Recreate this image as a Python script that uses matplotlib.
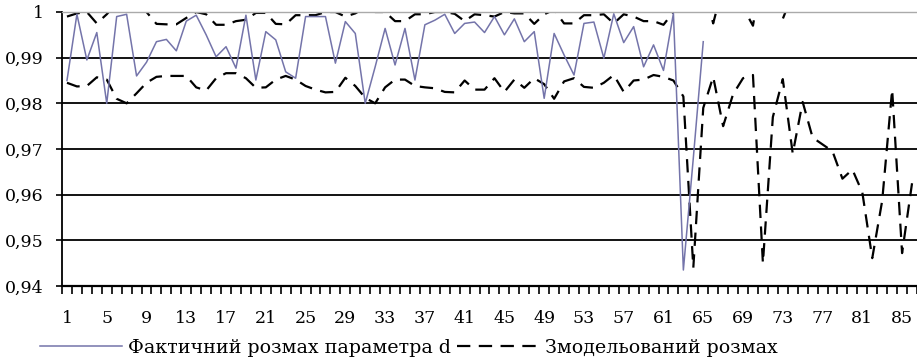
import numpy as np
import matplotlib
matplotlib.use("Agg")
import matplotlib.pyplot as plt
from matplotlib.lines import Line2D

# ---- data ----
categories = list(range(1, 87))

actual_range = [
    0.985, 0.9995, 0.9895, 0.9955, 0.980, 0.999, 0.9995, 0.986, 0.989, 0.9935,
    0.994, 0.9915, 0.998, 0.9993, 0.995, 0.9902, 0.9924, 0.9877, 0.9993, 0.9851,
    0.9957, 0.9939, 0.9869, 0.9855, 0.999, 0.999, 0.999, 0.9888, 0.9979, 0.9953,
    0.980, 0.988, 0.9964, 0.9884, 0.9964, 0.9851, 0.9972, 0.9982, 0.9995, 0.9953,
    0.9975, 0.9978, 0.9955, 0.999, 0.995, 0.9985, 0.9935, 0.9957, 0.9811, 0.9953,
    0.9906, 0.9862, 0.9975, 0.9978, 0.9899, 0.9996, 0.9933, 0.9968, 0.988, 0.9928,
    0.9872, 0.9997, 0.9435, 0.968, 0.9935,
]

model_upper = [
    0.999, 0.9997, 1.0, 0.9975, 0.9995, 1.002, 1.001, 1.0005, 1.0, 0.9974,
    0.9973, 0.9973, 0.9987, 1.0, 0.9995, 0.9972, 0.9972, 0.998, 0.9983, 0.9998,
    0.9998, 0.9974, 0.9973, 0.9993, 0.9993, 0.9993, 1.0, 1.0, 0.999, 0.9997,
    1.001, 1.0, 1.0, 0.998, 0.998, 0.9995, 0.9995, 1.0, 1.0, 0.9996,
    0.998, 0.9995, 0.9993, 0.999, 1.0, 0.9997, 0.9997, 0.9974, 0.9995, 1.0005,
    0.9975, 0.9975, 0.9993, 0.9993, 0.9995, 0.9975, 0.9995, 0.999, 0.998, 0.998,
    0.9972, 1.0, 1.004, 1.01, 1.006, 0.9975, 1.006, 1.008, 1.001, 0.997,
    1.01, 1.004, 0.9985, 1.004, 1.006, 1.005, 1.007, 1.006, 1.008, 1.007,
    1.009, 1.01, 1.008, 1.005, 1.01, 1.008,
]

model_lower = [
    0.9845, 0.9837, 0.9838, 0.9857, 0.9852, 0.981, 0.980, 0.9822, 0.9845, 0.9858,
    0.986, 0.986, 0.986, 0.9835, 0.9828, 0.9855, 0.9866, 0.9866, 0.9855, 0.9834,
    0.9835, 0.9852, 0.986, 0.9852, 0.9838, 0.983, 0.9824, 0.9825, 0.9856, 0.9838,
    0.9812, 0.980, 0.9835, 0.9852, 0.9852, 0.9838, 0.9835, 0.9833, 0.9825, 0.9824,
    0.985, 0.983, 0.983, 0.9855, 0.9825, 0.9852, 0.9834, 0.9855, 0.9842, 0.981,
    0.9848, 0.9855, 0.9836, 0.9834, 0.9845, 0.9862, 0.9825, 0.985, 0.9852, 0.9862,
    0.9858, 0.985, 0.9815, 0.944, 0.979, 0.9858, 0.975, 0.982, 0.9855, 0.9862,
    0.945, 0.977, 0.9853, 0.969, 0.9803, 0.9725, 0.971, 0.9695, 0.9635, 0.9655,
    0.9605, 0.9461, 0.9587, 0.983, 0.9472, 0.9625,
]

y_ticks = [0.94, 0.95, 0.96, 0.97, 0.98, 0.99, 1.0]
y_tick_labels = ["0,94", "0,95", "0,96", "0,97", "0,98", "0,99", "1"]
x_label_positions = list(range(1, 87, 4))
legend_labels = ["Фактичний розмах параметра d", "Змодельований розмах"]

# ---- figure ----
W, H = 917, 359
AX_H = 274
fig = plt.figure(figsize=(W / 100, H / 100), dpi=100)
ax = fig.add_axes([62 / W, 1 - 286 / H, 855 / W, AX_H / H])

font = "DejaVu Serif"
blue = "#7474aa"

for yv in y_ticks[1:-1]:
    ax.axhline(yv, color="black", lw=1.3, zorder=1)

x_act = categories[:len(actual_range)]
ax.plot(x_act, actual_range, color=blue, lw=1.1, zorder=3)
dash = (0, (6.0, 3.8))
ax.plot(categories, model_upper, color="black", lw=1.6, linestyle=dash, zorder=2)
ax.plot(categories, model_lower, color="black", lw=1.6, linestyle=dash, zorder=2)

ax.set_xlim(0.5, 86.5)
ax.set_ylim(0.94, 1.0)

# spines
ax.spines["right"].set_visible(False)
ax.spines["top"].set_color("#aaaaaa")
ax.spines["top"].set_linewidth(1.0)
ax.spines["left"].set_linewidth(1.3)
ax.spines["bottom"].set_linewidth(1.6)

# y ticks
ax.set_yticks(y_ticks)
ax.set_yticklabels(y_tick_labels, fontfamily=font, fontsize=12.5)
ax.tick_params(axis="y", direction="out", length=4.5, width=1.2, pad=8.5,
               color="black")

# x: tick marks at category boundaries (major), labels every 4th category (minor)
ax.xaxis.set_major_locator(matplotlib.ticker.FixedLocator(np.arange(0.5, 87, 1.0)))
ax.xaxis.set_major_formatter(matplotlib.ticker.NullFormatter())
ax.xaxis.set_minor_locator(matplotlib.ticker.FixedLocator(x_label_positions))
ax.xaxis.set_minor_formatter(matplotlib.ticker.FixedFormatter(
    [str(v) for v in x_label_positions]))
ax.xaxis.remove_overlapping_locs = False
ax.tick_params(axis="x", which="major", direction="out", length=6,
               width=1.2, color="black", bottom=True)
ax.tick_params(axis="x", which="minor", length=0, pad=17, bottom=True,
               labelbottom=True)
for lab in ax.get_xticklabels(minor=True):
    lab.set_fontfamily(font)
    lab.set_fontsize(12.5)

# legend
handles = [Line2D([], [], color=blue, lw=1.1),
           Line2D([], [], color="black", lw=1.6, linestyle=dash)]
fig.legend(handles, legend_labels, ncol=2, loc="center left",
           bbox_to_anchor=(40 / W, 1 - 348 / H), frameon=False,
           prop={"family": font, "size": 13.7}, handlelength=4.3,
           handletextpad=0.3, columnspacing=0.35, borderaxespad=0, borderpad=0)

fig.savefig("out.png", dpi=100)
